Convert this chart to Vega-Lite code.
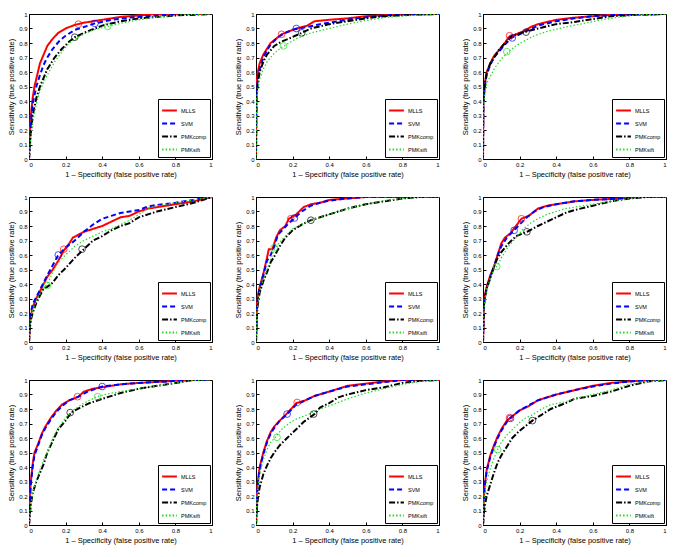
{
"$schema":"https://vega.github.io/schema/vega-lite/v6.json",
"padding":{"left":7,"top":10,"right":4,"bottom":4},
"background":"white",
"columns":3,
"spacing":{"row":15,"column":21},
"datasets":{
"c":[
{"p":1,"m":"MLLS","x":0,"y":0},{"p":1,"m":"MLLS","x":0.005,"y":0.2},{"p":1,"m":"MLLS","x":0.01,"y":0.3},{"p":1,"m":"MLLS","x":0.02,"y":0.42},{"p":1,"m":"MLLS","x":0.03,"y":0.5},{"p":1,"m":"MLLS","x":0.045,"y":0.58},{"p":1,"m":"MLLS","x":0.06,"y":0.66},{"p":1,"m":"MLLS","x":0.08,"y":0.72},{"p":1,"m":"MLLS","x":0.1,"y":0.78},{"p":1,"m":"MLLS","x":0.13,"y":0.83},{"p":1,"m":"MLLS","x":0.16,"y":0.87},{"p":1,"m":"MLLS","x":0.2,"y":0.9},{"p":1,"m":"MLLS","x":0.25,"y":0.925},{"p":1,"m":"MLLS","x":0.3,"y":0.94},{"p":1,"m":"MLLS","x":0.4,"y":0.96},{"p":1,"m":"MLLS","x":0.5,"y":0.98},{"p":1,"m":"MLLS","x":0.6,"y":0.99},{"p":1,"m":"MLLS","x":0.7,"y":1},{"p":1,"m":"MLLS","x":1,"y":1},
{"p":1,"m":"SVM","x":0,"y":0},{"p":1,"m":"SVM","x":0.01,"y":0.25},{"p":1,"m":"SVM","x":0.02,"y":0.38},{"p":1,"m":"SVM","x":0.04,"y":0.5},{"p":1,"m":"SVM","x":0.06,"y":0.58},{"p":1,"m":"SVM","x":0.08,"y":0.65},{"p":1,"m":"SVM","x":0.1,"y":0.7},{"p":1,"m":"SVM","x":0.13,"y":0.76},{"p":1,"m":"SVM","x":0.17,"y":0.82},{"p":1,"m":"SVM","x":0.2,"y":0.85},{"p":1,"m":"SVM","x":0.25,"y":0.89},{"p":1,"m":"SVM","x":0.3,"y":0.91},{"p":1,"m":"SVM","x":0.36,"y":0.935},{"p":1,"m":"SVM","x":0.45,"y":0.96},{"p":1,"m":"SVM","x":0.55,"y":0.975},{"p":1,"m":"SVM","x":0.7,"y":0.99},{"p":1,"m":"SVM","x":0.85,"y":1},{"p":1,"m":"SVM","x":1,"y":1},
{"p":1,"m":"PMKcomp","x":0,"y":0},{"p":1,"m":"PMKcomp","x":0.01,"y":0.18},{"p":1,"m":"PMKcomp","x":0.02,"y":0.3},{"p":1,"m":"PMKcomp","x":0.04,"y":0.42},{"p":1,"m":"PMKcomp","x":0.06,"y":0.5},{"p":1,"m":"PMKcomp","x":0.08,"y":0.56},{"p":1,"m":"PMKcomp","x":0.1,"y":0.62},{"p":1,"m":"PMKcomp","x":0.14,"y":0.7},{"p":1,"m":"PMKcomp","x":0.18,"y":0.76},{"p":1,"m":"PMKcomp","x":0.22,"y":0.81},{"p":1,"m":"PMKcomp","x":0.25,"y":0.84},{"p":1,"m":"PMKcomp","x":0.3,"y":0.87},{"p":1,"m":"PMKcomp","x":0.4,"y":0.92},{"p":1,"m":"PMKcomp","x":0.5,"y":0.95},{"p":1,"m":"PMKcomp","x":0.6,"y":0.97},{"p":1,"m":"PMKcomp","x":0.8,"y":0.99},{"p":1,"m":"PMKcomp","x":1,"y":1},
{"p":1,"m":"PMKsift","x":0,"y":0},{"p":1,"m":"PMKsift","x":0.01,"y":0.15},{"p":1,"m":"PMKsift","x":0.02,"y":0.25},{"p":1,"m":"PMKsift","x":0.04,"y":0.38},{"p":1,"m":"PMKsift","x":0.06,"y":0.47},{"p":1,"m":"PMKsift","x":0.08,"y":0.53},{"p":1,"m":"PMKsift","x":0.1,"y":0.58},{"p":1,"m":"PMKsift","x":0.14,"y":0.67},{"p":1,"m":"PMKsift","x":0.18,"y":0.74},{"p":1,"m":"PMKsift","x":0.22,"y":0.8},{"p":1,"m":"PMKsift","x":0.28,"y":0.85},{"p":1,"m":"PMKsift","x":0.35,"y":0.89},{"p":1,"m":"PMKsift","x":0.43,"y":0.915},{"p":1,"m":"PMKsift","x":0.5,"y":0.935},{"p":1,"m":"PMKsift","x":0.6,"y":0.96},{"p":1,"m":"PMKsift","x":0.7,"y":0.98},{"p":1,"m":"PMKsift","x":0.85,"y":0.995},{"p":1,"m":"PMKsift","x":1,"y":1},

{"p":2,"m":"MLLS","x":0,"y":0},{"p":2,"m":"MLLS","x":0.002,"y":0.5},{"p":2,"m":"MLLS","x":0.01,"y":0.6},{"p":2,"m":"MLLS","x":0.02,"y":0.66},{"p":2,"m":"MLLS","x":0.04,"y":0.72},{"p":2,"m":"MLLS","x":0.06,"y":0.76},{"p":2,"m":"MLLS","x":0.08,"y":0.8},{"p":2,"m":"MLLS","x":0.1,"y":0.82},{"p":2,"m":"MLLS","x":0.14,"y":0.86},{"p":2,"m":"MLLS","x":0.18,"y":0.88},{"p":2,"m":"MLLS","x":0.22,"y":0.9},{"p":2,"m":"MLLS","x":0.28,"y":0.92},{"p":2,"m":"MLLS","x":0.32,"y":0.95},{"p":2,"m":"MLLS","x":0.4,"y":0.96},{"p":2,"m":"MLLS","x":0.5,"y":0.97},{"p":2,"m":"MLLS","x":0.6,"y":0.985},{"p":2,"m":"MLLS","x":0.75,"y":0.995},{"p":2,"m":"MLLS","x":1,"y":1},
{"p":2,"m":"SVM","x":0,"y":0},{"p":2,"m":"SVM","x":0.002,"y":0.45},{"p":2,"m":"SVM","x":0.01,"y":0.55},{"p":2,"m":"SVM","x":0.02,"y":0.62},{"p":2,"m":"SVM","x":0.04,"y":0.7},{"p":2,"m":"SVM","x":0.06,"y":0.75},{"p":2,"m":"SVM","x":0.08,"y":0.79},{"p":2,"m":"SVM","x":0.12,"y":0.84},{"p":2,"m":"SVM","x":0.16,"y":0.87},{"p":2,"m":"SVM","x":0.21,"y":0.895},{"p":2,"m":"SVM","x":0.28,"y":0.91},{"p":2,"m":"SVM","x":0.35,"y":0.93},{"p":2,"m":"SVM","x":0.45,"y":0.95},{"p":2,"m":"SVM","x":0.55,"y":0.97},{"p":2,"m":"SVM","x":0.7,"y":0.99},{"p":2,"m":"SVM","x":0.85,"y":1},{"p":2,"m":"SVM","x":1,"y":1},
{"p":2,"m":"PMKcomp","x":0,"y":0},{"p":2,"m":"PMKcomp","x":0.003,"y":0.45},{"p":2,"m":"PMKcomp","x":0.01,"y":0.52},{"p":2,"m":"PMKcomp","x":0.02,"y":0.6},{"p":2,"m":"PMKcomp","x":0.04,"y":0.67},{"p":2,"m":"PMKcomp","x":0.06,"y":0.72},{"p":2,"m":"PMKcomp","x":0.1,"y":0.78},{"p":2,"m":"PMKcomp","x":0.14,"y":0.81},{"p":2,"m":"PMKcomp","x":0.18,"y":0.83},{"p":2,"m":"PMKcomp","x":0.25,"y":0.87},{"p":2,"m":"PMKcomp","x":0.3,"y":0.9},{"p":2,"m":"PMKcomp","x":0.4,"y":0.93},{"p":2,"m":"PMKcomp","x":0.5,"y":0.95},{"p":2,"m":"PMKcomp","x":0.6,"y":0.97},{"p":2,"m":"PMKcomp","x":0.7,"y":0.985},{"p":2,"m":"PMKcomp","x":0.85,"y":0.995},{"p":2,"m":"PMKcomp","x":1,"y":1},
{"p":2,"m":"PMKsift","x":0,"y":0},{"p":2,"m":"PMKsift","x":0.003,"y":0.4},{"p":2,"m":"PMKsift","x":0.01,"y":0.48},{"p":2,"m":"PMKsift","x":0.02,"y":0.55},{"p":2,"m":"PMKsift","x":0.04,"y":0.62},{"p":2,"m":"PMKsift","x":0.06,"y":0.67},{"p":2,"m":"PMKsift","x":0.1,"y":0.73},{"p":2,"m":"PMKsift","x":0.14,"y":0.77},{"p":2,"m":"PMKsift","x":0.18,"y":0.8},{"p":2,"m":"PMKsift","x":0.22,"y":0.83},{"p":2,"m":"PMKsift","x":0.3,"y":0.87},{"p":2,"m":"PMKsift","x":0.4,"y":0.9},{"p":2,"m":"PMKsift","x":0.5,"y":0.93},{"p":2,"m":"PMKsift","x":0.6,"y":0.955},{"p":2,"m":"PMKsift","x":0.7,"y":0.975},{"p":2,"m":"PMKsift","x":0.85,"y":0.99},{"p":2,"m":"PMKsift","x":1,"y":1},

{"p":3,"m":"MLLS","x":0,"y":0},{"p":3,"m":"MLLS","x":0.002,"y":0.4},{"p":3,"m":"MLLS","x":0.01,"y":0.52},{"p":3,"m":"MLLS","x":0.02,"y":0.6},{"p":3,"m":"MLLS","x":0.04,"y":0.66},{"p":3,"m":"MLLS","x":0.06,"y":0.71},{"p":3,"m":"MLLS","x":0.08,"y":0.74},{"p":3,"m":"MLLS","x":0.1,"y":0.77},{"p":3,"m":"MLLS","x":0.12,"y":0.8},{"p":3,"m":"MLLS","x":0.14,"y":0.84},{"p":3,"m":"MLLS","x":0.18,"y":0.86},{"p":3,"m":"MLLS","x":0.22,"y":0.88},{"p":3,"m":"MLLS","x":0.26,"y":0.91},{"p":3,"m":"MLLS","x":0.3,"y":0.93},{"p":3,"m":"MLLS","x":0.4,"y":0.96},{"p":3,"m":"MLLS","x":0.5,"y":0.975},{"p":3,"m":"MLLS","x":0.6,"y":0.985},{"p":3,"m":"MLLS","x":0.7,"y":0.995},{"p":3,"m":"MLLS","x":1,"y":1},
{"p":3,"m":"SVM","x":0,"y":0},{"p":3,"m":"SVM","x":0.002,"y":0.38},{"p":3,"m":"SVM","x":0.01,"y":0.5},{"p":3,"m":"SVM","x":0.02,"y":0.58},{"p":3,"m":"SVM","x":0.04,"y":0.65},{"p":3,"m":"SVM","x":0.06,"y":0.7},{"p":3,"m":"SVM","x":0.08,"y":0.73},{"p":3,"m":"SVM","x":0.12,"y":0.79},{"p":3,"m":"SVM","x":0.16,"y":0.84},{"p":3,"m":"SVM","x":0.2,"y":0.86},{"p":3,"m":"SVM","x":0.25,"y":0.89},{"p":3,"m":"SVM","x":0.3,"y":0.92},{"p":3,"m":"SVM","x":0.4,"y":0.95},{"p":3,"m":"SVM","x":0.5,"y":0.97},{"p":3,"m":"SVM","x":0.6,"y":0.985},{"p":3,"m":"SVM","x":0.75,"y":0.995},{"p":3,"m":"SVM","x":1,"y":1},
{"p":3,"m":"PMKcomp","x":0,"y":0},{"p":3,"m":"PMKcomp","x":0.002,"y":0.4},{"p":3,"m":"PMKcomp","x":0.01,"y":0.52},{"p":3,"m":"PMKcomp","x":0.02,"y":0.59},{"p":3,"m":"PMKcomp","x":0.04,"y":0.66},{"p":3,"m":"PMKcomp","x":0.06,"y":0.7},{"p":3,"m":"PMKcomp","x":0.08,"y":0.74},{"p":3,"m":"PMKcomp","x":0.12,"y":0.8},{"p":3,"m":"PMKcomp","x":0.16,"y":0.85},{"p":3,"m":"PMKcomp","x":0.2,"y":0.865},{"p":3,"m":"PMKcomp","x":0.24,"y":0.88},{"p":3,"m":"PMKcomp","x":0.3,"y":0.9},{"p":3,"m":"PMKcomp","x":0.4,"y":0.93},{"p":3,"m":"PMKcomp","x":0.5,"y":0.945},{"p":3,"m":"PMKcomp","x":0.6,"y":0.965},{"p":3,"m":"PMKcomp","x":0.7,"y":0.985},{"p":3,"m":"PMKcomp","x":0.85,"y":0.995},{"p":3,"m":"PMKcomp","x":1,"y":1},
{"p":3,"m":"PMKsift","x":0,"y":0},{"p":3,"m":"PMKsift","x":0.003,"y":0.35},{"p":3,"m":"PMKsift","x":0.01,"y":0.45},{"p":3,"m":"PMKsift","x":0.02,"y":0.52},{"p":3,"m":"PMKsift","x":0.04,"y":0.57},{"p":3,"m":"PMKsift","x":0.06,"y":0.62},{"p":3,"m":"PMKsift","x":0.1,"y":0.69},{"p":3,"m":"PMKsift","x":0.14,"y":0.74},{"p":3,"m":"PMKsift","x":0.18,"y":0.78},{"p":3,"m":"PMKsift","x":0.22,"y":0.81},{"p":3,"m":"PMKsift","x":0.28,"y":0.85},{"p":3,"m":"PMKsift","x":0.35,"y":0.88},{"p":3,"m":"PMKsift","x":0.45,"y":0.91},{"p":3,"m":"PMKsift","x":0.55,"y":0.935},{"p":3,"m":"PMKsift","x":0.65,"y":0.96},{"p":3,"m":"PMKsift","x":0.75,"y":0.98},{"p":3,"m":"PMKsift","x":0.85,"y":0.995},{"p":3,"m":"PMKsift","x":1,"y":1},

{"p":4,"m":"MLLS","x":0,"y":0},{"p":4,"m":"MLLS","x":0.005,"y":0.12},{"p":4,"m":"MLLS","x":0.01,"y":0.18},{"p":4,"m":"MLLS","x":0.02,"y":0.24},{"p":4,"m":"MLLS","x":0.04,"y":0.3},{"p":4,"m":"MLLS","x":0.06,"y":0.35},{"p":4,"m":"MLLS","x":0.08,"y":0.4},{"p":4,"m":"MLLS","x":0.1,"y":0.45},{"p":4,"m":"MLLS","x":0.13,"y":0.5},{"p":4,"m":"MLLS","x":0.16,"y":0.56},{"p":4,"m":"MLLS","x":0.19,"y":0.63},{"p":4,"m":"MLLS","x":0.22,"y":0.68},{"p":4,"m":"MLLS","x":0.24,"y":0.72},{"p":4,"m":"MLLS","x":0.3,"y":0.76},{"p":4,"m":"MLLS","x":0.35,"y":0.78},{"p":4,"m":"MLLS","x":0.4,"y":0.8},{"p":4,"m":"MLLS","x":0.45,"y":0.83},{"p":4,"m":"MLLS","x":0.5,"y":0.86},{"p":4,"m":"MLLS","x":0.55,"y":0.87},{"p":4,"m":"MLLS","x":0.6,"y":0.9},{"p":4,"m":"MLLS","x":0.65,"y":0.92},{"p":4,"m":"MLLS","x":0.7,"y":0.93},{"p":4,"m":"MLLS","x":0.8,"y":0.95},{"p":4,"m":"MLLS","x":0.9,"y":0.97},{"p":4,"m":"MLLS","x":1,"y":1},
{"p":4,"m":"SVM","x":0,"y":0},{"p":4,"m":"SVM","x":0.005,"y":0.15},{"p":4,"m":"SVM","x":0.01,"y":0.2},{"p":4,"m":"SVM","x":0.02,"y":0.26},{"p":4,"m":"SVM","x":0.04,"y":0.31},{"p":4,"m":"SVM","x":0.06,"y":0.36},{"p":4,"m":"SVM","x":0.08,"y":0.41},{"p":4,"m":"SVM","x":0.1,"y":0.46},{"p":4,"m":"SVM","x":0.13,"y":0.53},{"p":4,"m":"SVM","x":0.16,"y":0.6},{"p":4,"m":"SVM","x":0.2,"y":0.65},{"p":4,"m":"SVM","x":0.25,"y":0.7},{"p":4,"m":"SVM","x":0.3,"y":0.76},{"p":4,"m":"SVM","x":0.35,"y":0.81},{"p":4,"m":"SVM","x":0.4,"y":0.85},{"p":4,"m":"SVM","x":0.45,"y":0.87},{"p":4,"m":"SVM","x":0.5,"y":0.89},{"p":4,"m":"SVM","x":0.55,"y":0.9},{"p":4,"m":"SVM","x":0.6,"y":0.91},{"p":4,"m":"SVM","x":0.65,"y":0.935},{"p":4,"m":"SVM","x":0.7,"y":0.945},{"p":4,"m":"SVM","x":0.8,"y":0.96},{"p":4,"m":"SVM","x":0.9,"y":0.98},{"p":4,"m":"SVM","x":1,"y":1},
{"p":4,"m":"PMKcomp","x":0,"y":0},{"p":4,"m":"PMKcomp","x":0.005,"y":0.1},{"p":4,"m":"PMKcomp","x":0.01,"y":0.15},{"p":4,"m":"PMKcomp","x":0.02,"y":0.2},{"p":4,"m":"PMKcomp","x":0.04,"y":0.27},{"p":4,"m":"PMKcomp","x":0.06,"y":0.32},{"p":4,"m":"PMKcomp","x":0.08,"y":0.37},{"p":4,"m":"PMKcomp","x":0.1,"y":0.38},{"p":4,"m":"PMKcomp","x":0.13,"y":0.41},{"p":4,"m":"PMKcomp","x":0.16,"y":0.46},{"p":4,"m":"PMKcomp","x":0.2,"y":0.51},{"p":4,"m":"PMKcomp","x":0.25,"y":0.58},{"p":4,"m":"PMKcomp","x":0.3,"y":0.64},{"p":4,"m":"PMKcomp","x":0.35,"y":0.7},{"p":4,"m":"PMKcomp","x":0.4,"y":0.73},{"p":4,"m":"PMKcomp","x":0.45,"y":0.77},{"p":4,"m":"PMKcomp","x":0.5,"y":0.8},{"p":4,"m":"PMKcomp","x":0.55,"y":0.82},{"p":4,"m":"PMKcomp","x":0.6,"y":0.86},{"p":4,"m":"PMKcomp","x":0.65,"y":0.88},{"p":4,"m":"PMKcomp","x":0.7,"y":0.9},{"p":4,"m":"PMKcomp","x":0.8,"y":0.93},{"p":4,"m":"PMKcomp","x":0.9,"y":0.96},{"p":4,"m":"PMKcomp","x":1,"y":1},
{"p":4,"m":"PMKsift","x":0,"y":0},{"p":4,"m":"PMKsift","x":0.005,"y":0.1},{"p":4,"m":"PMKsift","x":0.01,"y":0.15},{"p":4,"m":"PMKsift","x":0.02,"y":0.22},{"p":4,"m":"PMKsift","x":0.04,"y":0.28},{"p":4,"m":"PMKsift","x":0.06,"y":0.33},{"p":4,"m":"PMKsift","x":0.08,"y":0.37},{"p":4,"m":"PMKsift","x":0.1,"y":0.4},{"p":4,"m":"PMKsift","x":0.13,"y":0.48},{"p":4,"m":"PMKsift","x":0.16,"y":0.55},{"p":4,"m":"PMKsift","x":0.2,"y":0.6},{"p":4,"m":"PMKsift","x":0.25,"y":0.66},{"p":4,"m":"PMKsift","x":0.3,"y":0.7},{"p":4,"m":"PMKsift","x":0.35,"y":0.73},{"p":4,"m":"PMKsift","x":0.4,"y":0.76},{"p":4,"m":"PMKsift","x":0.45,"y":0.78},{"p":4,"m":"PMKsift","x":0.5,"y":0.81},{"p":4,"m":"PMKsift","x":0.55,"y":0.84},{"p":4,"m":"PMKsift","x":0.6,"y":0.88},{"p":4,"m":"PMKsift","x":0.65,"y":0.92},{"p":4,"m":"PMKsift","x":0.7,"y":0.94},{"p":4,"m":"PMKsift","x":0.8,"y":0.96},{"p":4,"m":"PMKsift","x":0.9,"y":0.98},{"p":4,"m":"PMKsift","x":1,"y":1},

{"p":5,"m":"MLLS","x":0,"y":0},{"p":5,"m":"MLLS","x":0.005,"y":0.25},{"p":5,"m":"MLLS","x":0.01,"y":0.32},{"p":5,"m":"MLLS","x":0.02,"y":0.38},{"p":5,"m":"MLLS","x":0.04,"y":0.47},{"p":5,"m":"MLLS","x":0.06,"y":0.58},{"p":5,"m":"MLLS","x":0.07,"y":0.64},{"p":5,"m":"MLLS","x":0.09,"y":0.64},{"p":5,"m":"MLLS","x":0.11,"y":0.72},{"p":5,"m":"MLLS","x":0.13,"y":0.77},{"p":5,"m":"MLLS","x":0.16,"y":0.8},{"p":5,"m":"MLLS","x":0.18,"y":0.85},{"p":5,"m":"MLLS","x":0.22,"y":0.88},{"p":5,"m":"MLLS","x":0.26,"y":0.93},{"p":5,"m":"MLLS","x":0.3,"y":0.95},{"p":5,"m":"MLLS","x":0.35,"y":0.96},{"p":5,"m":"MLLS","x":0.4,"y":0.98},{"p":5,"m":"MLLS","x":0.5,"y":0.99},{"p":5,"m":"MLLS","x":0.6,"y":1},{"p":5,"m":"MLLS","x":1,"y":1},
{"p":5,"m":"SVM","x":0,"y":0},{"p":5,"m":"SVM","x":0.005,"y":0.25},{"p":5,"m":"SVM","x":0.01,"y":0.3},{"p":5,"m":"SVM","x":0.02,"y":0.37},{"p":5,"m":"SVM","x":0.04,"y":0.46},{"p":5,"m":"SVM","x":0.06,"y":0.56},{"p":5,"m":"SVM","x":0.08,"y":0.6},{"p":5,"m":"SVM","x":0.1,"y":0.66},{"p":5,"m":"SVM","x":0.12,"y":0.74},{"p":5,"m":"SVM","x":0.15,"y":0.78},{"p":5,"m":"SVM","x":0.18,"y":0.82},{"p":5,"m":"SVM","x":0.21,"y":0.855},{"p":5,"m":"SVM","x":0.25,"y":0.9},{"p":5,"m":"SVM","x":0.3,"y":0.94},{"p":5,"m":"SVM","x":0.35,"y":0.96},{"p":5,"m":"SVM","x":0.4,"y":0.975},{"p":5,"m":"SVM","x":0.5,"y":0.99},{"p":5,"m":"SVM","x":0.6,"y":1},{"p":5,"m":"SVM","x":1,"y":1},
{"p":5,"m":"PMKcomp","x":0,"y":0},{"p":5,"m":"PMKcomp","x":0.005,"y":0.2},{"p":5,"m":"PMKcomp","x":0.01,"y":0.26},{"p":5,"m":"PMKcomp","x":0.02,"y":0.34},{"p":5,"m":"PMKcomp","x":0.04,"y":0.42},{"p":5,"m":"PMKcomp","x":0.06,"y":0.48},{"p":5,"m":"PMKcomp","x":0.08,"y":0.55},{"p":5,"m":"PMKcomp","x":0.1,"y":0.59},{"p":5,"m":"PMKcomp","x":0.13,"y":0.66},{"p":5,"m":"PMKcomp","x":0.16,"y":0.72},{"p":5,"m":"PMKcomp","x":0.2,"y":0.77},{"p":5,"m":"PMKcomp","x":0.25,"y":0.81},{"p":5,"m":"PMKcomp","x":0.3,"y":0.84},{"p":5,"m":"PMKcomp","x":0.35,"y":0.86},{"p":5,"m":"PMKcomp","x":0.4,"y":0.88},{"p":5,"m":"PMKcomp","x":0.5,"y":0.92},{"p":5,"m":"PMKcomp","x":0.6,"y":0.95},{"p":5,"m":"PMKcomp","x":0.7,"y":0.97},{"p":5,"m":"PMKcomp","x":0.8,"y":0.99},{"p":5,"m":"PMKcomp","x":0.9,"y":1},{"p":5,"m":"PMKcomp","x":1,"y":1},
{"p":5,"m":"PMKsift","x":0,"y":0},{"p":5,"m":"PMKsift","x":0.005,"y":0.2},{"p":5,"m":"PMKsift","x":0.01,"y":0.27},{"p":5,"m":"PMKsift","x":0.02,"y":0.35},{"p":5,"m":"PMKsift","x":0.04,"y":0.43},{"p":5,"m":"PMKsift","x":0.06,"y":0.5},{"p":5,"m":"PMKsift","x":0.08,"y":0.57},{"p":5,"m":"PMKsift","x":0.1,"y":0.64},{"p":5,"m":"PMKsift","x":0.13,"y":0.69},{"p":5,"m":"PMKsift","x":0.16,"y":0.73},{"p":5,"m":"PMKsift","x":0.2,"y":0.78},{"p":5,"m":"PMKsift","x":0.25,"y":0.81},{"p":5,"m":"PMKsift","x":0.3,"y":0.84},{"p":5,"m":"PMKsift","x":0.35,"y":0.86},{"p":5,"m":"PMKsift","x":0.4,"y":0.88},{"p":5,"m":"PMKsift","x":0.5,"y":0.92},{"p":5,"m":"PMKsift","x":0.6,"y":0.95},{"p":5,"m":"PMKsift","x":0.7,"y":0.975},{"p":5,"m":"PMKsift","x":0.8,"y":0.99},{"p":5,"m":"PMKsift","x":0.9,"y":1},{"p":5,"m":"PMKsift","x":1,"y":1},

{"p":6,"m":"MLLS","x":0,"y":0},{"p":6,"m":"MLLS","x":0.005,"y":0.25},{"p":6,"m":"MLLS","x":0.01,"y":0.32},{"p":6,"m":"MLLS","x":0.02,"y":0.38},{"p":6,"m":"MLLS","x":0.04,"y":0.46},{"p":6,"m":"MLLS","x":0.06,"y":0.52},{"p":6,"m":"MLLS","x":0.08,"y":0.6},{"p":6,"m":"MLLS","x":0.1,"y":0.68},{"p":6,"m":"MLLS","x":0.12,"y":0.72},{"p":6,"m":"MLLS","x":0.15,"y":0.75},{"p":6,"m":"MLLS","x":0.18,"y":0.8},{"p":6,"m":"MLLS","x":0.21,"y":0.85},{"p":6,"m":"MLLS","x":0.25,"y":0.87},{"p":6,"m":"MLLS","x":0.3,"y":0.92},{"p":6,"m":"MLLS","x":0.35,"y":0.94},{"p":6,"m":"MLLS","x":0.4,"y":0.95},{"p":6,"m":"MLLS","x":0.5,"y":0.97},{"p":6,"m":"MLLS","x":0.6,"y":0.98},{"p":6,"m":"MLLS","x":0.75,"y":0.99},{"p":6,"m":"MLLS","x":0.85,"y":1},{"p":6,"m":"MLLS","x":1,"y":1},
{"p":6,"m":"SVM","x":0,"y":0},{"p":6,"m":"SVM","x":0.005,"y":0.25},{"p":6,"m":"SVM","x":0.01,"y":0.31},{"p":6,"m":"SVM","x":0.02,"y":0.37},{"p":6,"m":"SVM","x":0.04,"y":0.45},{"p":6,"m":"SVM","x":0.06,"y":0.52},{"p":6,"m":"SVM","x":0.08,"y":0.6},{"p":6,"m":"SVM","x":0.1,"y":0.66},{"p":6,"m":"SVM","x":0.13,"y":0.72},{"p":6,"m":"SVM","x":0.17,"y":0.77},{"p":6,"m":"SVM","x":0.2,"y":0.81},{"p":6,"m":"SVM","x":0.24,"y":0.86},{"p":6,"m":"SVM","x":0.28,"y":0.9},{"p":6,"m":"SVM","x":0.33,"y":0.93},{"p":6,"m":"SVM","x":0.4,"y":0.95},{"p":6,"m":"SVM","x":0.5,"y":0.97},{"p":6,"m":"SVM","x":0.6,"y":0.98},{"p":6,"m":"SVM","x":0.75,"y":0.99},{"p":6,"m":"SVM","x":0.85,"y":1},{"p":6,"m":"SVM","x":1,"y":1},
{"p":6,"m":"PMKcomp","x":0,"y":0},{"p":6,"m":"PMKcomp","x":0.005,"y":0.25},{"p":6,"m":"PMKcomp","x":0.01,"y":0.3},{"p":6,"m":"PMKcomp","x":0.02,"y":0.37},{"p":6,"m":"PMKcomp","x":0.04,"y":0.44},{"p":6,"m":"PMKcomp","x":0.06,"y":0.52},{"p":6,"m":"PMKcomp","x":0.08,"y":0.58},{"p":6,"m":"PMKcomp","x":0.1,"y":0.62},{"p":6,"m":"PMKcomp","x":0.14,"y":0.68},{"p":6,"m":"PMKcomp","x":0.18,"y":0.73},{"p":6,"m":"PMKcomp","x":0.24,"y":0.76},{"p":6,"m":"PMKcomp","x":0.3,"y":0.8},{"p":6,"m":"PMKcomp","x":0.35,"y":0.83},{"p":6,"m":"PMKcomp","x":0.4,"y":0.86},{"p":6,"m":"PMKcomp","x":0.45,"y":0.89},{"p":6,"m":"PMKcomp","x":0.5,"y":0.91},{"p":6,"m":"PMKcomp","x":0.6,"y":0.94},{"p":6,"m":"PMKcomp","x":0.7,"y":0.97},{"p":6,"m":"PMKcomp","x":0.8,"y":0.99},{"p":6,"m":"PMKcomp","x":0.9,"y":1},{"p":6,"m":"PMKcomp","x":1,"y":1},
{"p":6,"m":"PMKsift","x":0,"y":0},{"p":6,"m":"PMKsift","x":0.005,"y":0.22},{"p":6,"m":"PMKsift","x":0.01,"y":0.28},{"p":6,"m":"PMKsift","x":0.02,"y":0.36},{"p":6,"m":"PMKsift","x":0.04,"y":0.44},{"p":6,"m":"PMKsift","x":0.06,"y":0.5},{"p":6,"m":"PMKsift","x":0.08,"y":0.53},{"p":6,"m":"PMKsift","x":0.1,"y":0.58},{"p":6,"m":"PMKsift","x":0.14,"y":0.66},{"p":6,"m":"PMKsift","x":0.18,"y":0.72},{"p":6,"m":"PMKsift","x":0.22,"y":0.78},{"p":6,"m":"PMKsift","x":0.26,"y":0.82},{"p":6,"m":"PMKsift","x":0.3,"y":0.85},{"p":6,"m":"PMKsift","x":0.35,"y":0.88},{"p":6,"m":"PMKsift","x":0.4,"y":0.9},{"p":6,"m":"PMKsift","x":0.45,"y":0.92},{"p":6,"m":"PMKsift","x":0.5,"y":0.93},{"p":6,"m":"PMKsift","x":0.6,"y":0.95},{"p":6,"m":"PMKsift","x":0.7,"y":0.97},{"p":6,"m":"PMKsift","x":0.8,"y":0.99},{"p":6,"m":"PMKsift","x":0.9,"y":1},{"p":6,"m":"PMKsift","x":1,"y":1},

{"p":7,"m":"MLLS","x":0,"y":0},{"p":7,"m":"MLLS","x":0.005,"y":0.2},{"p":7,"m":"MLLS","x":0.01,"y":0.3},{"p":7,"m":"MLLS","x":0.02,"y":0.42},{"p":7,"m":"MLLS","x":0.03,"y":0.5},{"p":7,"m":"MLLS","x":0.05,"y":0.56},{"p":7,"m":"MLLS","x":0.07,"y":0.63},{"p":7,"m":"MLLS","x":0.09,"y":0.68},{"p":7,"m":"MLLS","x":0.12,"y":0.74},{"p":7,"m":"MLLS","x":0.15,"y":0.79},{"p":7,"m":"MLLS","x":0.18,"y":0.83},{"p":7,"m":"MLLS","x":0.22,"y":0.86},{"p":7,"m":"MLLS","x":0.27,"y":0.885},{"p":7,"m":"MLLS","x":0.3,"y":0.92},{"p":7,"m":"MLLS","x":0.35,"y":0.94},{"p":7,"m":"MLLS","x":0.4,"y":0.95},{"p":7,"m":"MLLS","x":0.5,"y":0.97},{"p":7,"m":"MLLS","x":0.6,"y":0.98},{"p":7,"m":"MLLS","x":0.75,"y":0.99},{"p":7,"m":"MLLS","x":0.85,"y":1},{"p":7,"m":"MLLS","x":1,"y":1},
{"p":7,"m":"SVM","x":0,"y":0},{"p":7,"m":"SVM","x":0.005,"y":0.18},{"p":7,"m":"SVM","x":0.01,"y":0.28},{"p":7,"m":"SVM","x":0.02,"y":0.4},{"p":7,"m":"SVM","x":0.03,"y":0.48},{"p":7,"m":"SVM","x":0.05,"y":0.55},{"p":7,"m":"SVM","x":0.07,"y":0.62},{"p":7,"m":"SVM","x":0.09,"y":0.67},{"p":7,"m":"SVM","x":0.12,"y":0.73},{"p":7,"m":"SVM","x":0.15,"y":0.78},{"p":7,"m":"SVM","x":0.18,"y":0.82},{"p":7,"m":"SVM","x":0.22,"y":0.86},{"p":7,"m":"SVM","x":0.27,"y":0.885},{"p":7,"m":"SVM","x":0.32,"y":0.92},{"p":7,"m":"SVM","x":0.4,"y":0.955},{"p":7,"m":"SVM","x":0.5,"y":0.97},{"p":7,"m":"SVM","x":0.6,"y":0.98},{"p":7,"m":"SVM","x":0.75,"y":0.99},{"p":7,"m":"SVM","x":0.85,"y":1},{"p":7,"m":"SVM","x":1,"y":1},
{"p":7,"m":"PMKcomp","x":0,"y":0},{"p":7,"m":"PMKcomp","x":0.005,"y":0.08},{"p":7,"m":"PMKcomp","x":0.01,"y":0.14},{"p":7,"m":"PMKcomp","x":0.02,"y":0.22},{"p":7,"m":"PMKcomp","x":0.04,"y":0.3},{"p":7,"m":"PMKcomp","x":0.06,"y":0.36},{"p":7,"m":"PMKcomp","x":0.08,"y":0.42},{"p":7,"m":"PMKcomp","x":0.1,"y":0.5},{"p":7,"m":"PMKcomp","x":0.13,"y":0.58},{"p":7,"m":"PMKcomp","x":0.16,"y":0.66},{"p":7,"m":"PMKcomp","x":0.2,"y":0.72},{"p":7,"m":"PMKcomp","x":0.23,"y":0.775},{"p":7,"m":"PMKcomp","x":0.28,"y":0.81},{"p":7,"m":"PMKcomp","x":0.33,"y":0.84},{"p":7,"m":"PMKcomp","x":0.4,"y":0.87},{"p":7,"m":"PMKcomp","x":0.5,"y":0.91},{"p":7,"m":"PMKcomp","x":0.6,"y":0.94},{"p":7,"m":"PMKcomp","x":0.7,"y":0.96},{"p":7,"m":"PMKcomp","x":0.8,"y":0.98},{"p":7,"m":"PMKcomp","x":0.9,"y":1},{"p":7,"m":"PMKcomp","x":1,"y":1},
{"p":7,"m":"PMKsift","x":0,"y":0},{"p":7,"m":"PMKsift","x":0.005,"y":0.08},{"p":7,"m":"PMKsift","x":0.01,"y":0.14},{"p":7,"m":"PMKsift","x":0.02,"y":0.22},{"p":7,"m":"PMKsift","x":0.04,"y":0.31},{"p":7,"m":"PMKsift","x":0.06,"y":0.38},{"p":7,"m":"PMKsift","x":0.08,"y":0.45},{"p":7,"m":"PMKsift","x":0.1,"y":0.5},{"p":7,"m":"PMKsift","x":0.13,"y":0.6},{"p":7,"m":"PMKsift","x":0.16,"y":0.67},{"p":7,"m":"PMKsift","x":0.2,"y":0.74},{"p":7,"m":"PMKsift","x":0.25,"y":0.8},{"p":7,"m":"PMKsift","x":0.3,"y":0.84},{"p":7,"m":"PMKsift","x":0.37,"y":0.885},{"p":7,"m":"PMKsift","x":0.45,"y":0.91},{"p":7,"m":"PMKsift","x":0.55,"y":0.93},{"p":7,"m":"PMKsift","x":0.65,"y":0.95},{"p":7,"m":"PMKsift","x":0.75,"y":0.97},{"p":7,"m":"PMKsift","x":0.85,"y":0.99},{"p":7,"m":"PMKsift","x":0.95,"y":1},{"p":7,"m":"PMKsift","x":1,"y":1},

{"p":8,"m":"MLLS","x":0,"y":0},{"p":8,"m":"MLLS","x":0.005,"y":0.22},{"p":8,"m":"MLLS","x":0.01,"y":0.3},{"p":8,"m":"MLLS","x":0.02,"y":0.4},{"p":8,"m":"MLLS","x":0.04,"y":0.5},{"p":8,"m":"MLLS","x":0.06,"y":0.58},{"p":8,"m":"MLLS","x":0.08,"y":0.64},{"p":8,"m":"MLLS","x":0.1,"y":0.68},{"p":8,"m":"MLLS","x":0.13,"y":0.72},{"p":8,"m":"MLLS","x":0.17,"y":0.77},{"p":8,"m":"MLLS","x":0.22,"y":0.84},{"p":8,"m":"MLLS","x":0.27,"y":0.86},{"p":8,"m":"MLLS","x":0.32,"y":0.89},{"p":8,"m":"MLLS","x":0.4,"y":0.92},{"p":8,"m":"MLLS","x":0.5,"y":0.96},{"p":8,"m":"MLLS","x":0.6,"y":0.975},{"p":8,"m":"MLLS","x":0.7,"y":0.99},{"p":8,"m":"MLLS","x":0.8,"y":1},{"p":8,"m":"MLLS","x":1,"y":1},
{"p":8,"m":"SVM","x":0,"y":0},{"p":8,"m":"SVM","x":0.005,"y":0.2},{"p":8,"m":"SVM","x":0.01,"y":0.28},{"p":8,"m":"SVM","x":0.02,"y":0.38},{"p":8,"m":"SVM","x":0.04,"y":0.49},{"p":8,"m":"SVM","x":0.06,"y":0.57},{"p":8,"m":"SVM","x":0.08,"y":0.63},{"p":8,"m":"SVM","x":0.1,"y":0.67},{"p":8,"m":"SVM","x":0.13,"y":0.72},{"p":8,"m":"SVM","x":0.17,"y":0.765},{"p":8,"m":"SVM","x":0.22,"y":0.83},{"p":8,"m":"SVM","x":0.27,"y":0.86},{"p":8,"m":"SVM","x":0.32,"y":0.89},{"p":8,"m":"SVM","x":0.4,"y":0.92},{"p":8,"m":"SVM","x":0.5,"y":0.955},{"p":8,"m":"SVM","x":0.6,"y":0.97},{"p":8,"m":"SVM","x":0.7,"y":0.985},{"p":8,"m":"SVM","x":0.8,"y":1},{"p":8,"m":"SVM","x":1,"y":1},
{"p":8,"m":"PMKcomp","x":0,"y":0},{"p":8,"m":"PMKcomp","x":0.005,"y":0.12},{"p":8,"m":"PMKcomp","x":0.01,"y":0.18},{"p":8,"m":"PMKcomp","x":0.02,"y":0.26},{"p":8,"m":"PMKcomp","x":0.04,"y":0.35},{"p":8,"m":"PMKcomp","x":0.06,"y":0.41},{"p":8,"m":"PMKcomp","x":0.08,"y":0.46},{"p":8,"m":"PMKcomp","x":0.1,"y":0.5},{"p":8,"m":"PMKcomp","x":0.13,"y":0.55},{"p":8,"m":"PMKcomp","x":0.17,"y":0.6},{"p":8,"m":"PMKcomp","x":0.22,"y":0.66},{"p":8,"m":"PMKcomp","x":0.26,"y":0.71},{"p":8,"m":"PMKcomp","x":0.32,"y":0.765},{"p":8,"m":"PMKcomp","x":0.35,"y":0.81},{"p":8,"m":"PMKcomp","x":0.4,"y":0.84},{"p":8,"m":"PMKcomp","x":0.45,"y":0.88},{"p":8,"m":"PMKcomp","x":0.5,"y":0.9},{"p":8,"m":"PMKcomp","x":0.6,"y":0.93},{"p":8,"m":"PMKcomp","x":0.7,"y":0.95},{"p":8,"m":"PMKcomp","x":0.8,"y":0.98},{"p":8,"m":"PMKcomp","x":0.9,"y":0.995},{"p":8,"m":"PMKcomp","x":1,"y":1},
{"p":8,"m":"PMKsift","x":0,"y":0},{"p":8,"m":"PMKsift","x":0.005,"y":0.18},{"p":8,"m":"PMKsift","x":0.01,"y":0.26},{"p":8,"m":"PMKsift","x":0.02,"y":0.35},{"p":8,"m":"PMKsift","x":0.04,"y":0.45},{"p":8,"m":"PMKsift","x":0.06,"y":0.52},{"p":8,"m":"PMKsift","x":0.08,"y":0.57},{"p":8,"m":"PMKsift","x":0.11,"y":0.61},{"p":8,"m":"PMKsift","x":0.14,"y":0.66},{"p":8,"m":"PMKsift","x":0.18,"y":0.7},{"p":8,"m":"PMKsift","x":0.22,"y":0.73},{"p":8,"m":"PMKsift","x":0.28,"y":0.76},{"p":8,"m":"PMKsift","x":0.35,"y":0.8},{"p":8,"m":"PMKsift","x":0.42,"y":0.83},{"p":8,"m":"PMKsift","x":0.5,"y":0.87},{"p":8,"m":"PMKsift","x":0.6,"y":0.91},{"p":8,"m":"PMKsift","x":0.7,"y":0.94},{"p":8,"m":"PMKsift","x":0.8,"y":0.97},{"p":8,"m":"PMKsift","x":0.9,"y":0.99},{"p":8,"m":"PMKsift","x":1,"y":1},

{"p":9,"m":"MLLS","x":0,"y":0},{"p":9,"m":"MLLS","x":0.005,"y":0.2},{"p":9,"m":"MLLS","x":0.01,"y":0.28},{"p":9,"m":"MLLS","x":0.02,"y":0.38},{"p":9,"m":"MLLS","x":0.04,"y":0.48},{"p":9,"m":"MLLS","x":0.06,"y":0.55},{"p":9,"m":"MLLS","x":0.08,"y":0.61},{"p":9,"m":"MLLS","x":0.1,"y":0.66},{"p":9,"m":"MLLS","x":0.13,"y":0.72},{"p":9,"m":"MLLS","x":0.16,"y":0.75},{"p":9,"m":"MLLS","x":0.2,"y":0.79},{"p":9,"m":"MLLS","x":0.25,"y":0.82},{"p":9,"m":"MLLS","x":0.3,"y":0.86},{"p":9,"m":"MLLS","x":0.35,"y":0.88},{"p":9,"m":"MLLS","x":0.4,"y":0.9},{"p":9,"m":"MLLS","x":0.5,"y":0.93},{"p":9,"m":"MLLS","x":0.6,"y":0.96},{"p":9,"m":"MLLS","x":0.7,"y":0.98},{"p":9,"m":"MLLS","x":0.8,"y":0.99},{"p":9,"m":"MLLS","x":0.9,"y":1},{"p":9,"m":"MLLS","x":1,"y":1},
{"p":9,"m":"SVM","x":0,"y":0},{"p":9,"m":"SVM","x":0.005,"y":0.18},{"p":9,"m":"SVM","x":0.01,"y":0.27},{"p":9,"m":"SVM","x":0.02,"y":0.37},{"p":9,"m":"SVM","x":0.04,"y":0.47},{"p":9,"m":"SVM","x":0.06,"y":0.54},{"p":9,"m":"SVM","x":0.08,"y":0.6},{"p":9,"m":"SVM","x":0.1,"y":0.65},{"p":9,"m":"SVM","x":0.13,"y":0.71},{"p":9,"m":"SVM","x":0.16,"y":0.75},{"p":9,"m":"SVM","x":0.2,"y":0.79},{"p":9,"m":"SVM","x":0.25,"y":0.825},{"p":9,"m":"SVM","x":0.3,"y":0.86},{"p":9,"m":"SVM","x":0.35,"y":0.88},{"p":9,"m":"SVM","x":0.4,"y":0.9},{"p":9,"m":"SVM","x":0.5,"y":0.93},{"p":9,"m":"SVM","x":0.6,"y":0.955},{"p":9,"m":"SVM","x":0.7,"y":0.975},{"p":9,"m":"SVM","x":0.8,"y":0.99},{"p":9,"m":"SVM","x":0.9,"y":1},{"p":9,"m":"SVM","x":1,"y":1},
{"p":9,"m":"PMKcomp","x":0,"y":0},{"p":9,"m":"PMKcomp","x":0.005,"y":0.08},{"p":9,"m":"PMKcomp","x":0.01,"y":0.13},{"p":9,"m":"PMKcomp","x":0.02,"y":0.2},{"p":9,"m":"PMKcomp","x":0.04,"y":0.28},{"p":9,"m":"PMKcomp","x":0.06,"y":0.36},{"p":9,"m":"PMKcomp","x":0.08,"y":0.43},{"p":9,"m":"PMKcomp","x":0.1,"y":0.48},{"p":9,"m":"PMKcomp","x":0.13,"y":0.54},{"p":9,"m":"PMKcomp","x":0.16,"y":0.6},{"p":9,"m":"PMKcomp","x":0.2,"y":0.65},{"p":9,"m":"PMKcomp","x":0.24,"y":0.69},{"p":9,"m":"PMKcomp","x":0.27,"y":0.72},{"p":9,"m":"PMKcomp","x":0.32,"y":0.76},{"p":9,"m":"PMKcomp","x":0.37,"y":0.8},{"p":9,"m":"PMKcomp","x":0.45,"y":0.84},{"p":9,"m":"PMKcomp","x":0.5,"y":0.87},{"p":9,"m":"PMKcomp","x":0.6,"y":0.89},{"p":9,"m":"PMKcomp","x":0.7,"y":0.92},{"p":9,"m":"PMKcomp","x":0.8,"y":0.96},{"p":9,"m":"PMKcomp","x":0.9,"y":0.99},{"p":9,"m":"PMKcomp","x":1,"y":1},
{"p":9,"m":"PMKsift","x":0,"y":0},{"p":9,"m":"PMKsift","x":0.005,"y":0.15},{"p":9,"m":"PMKsift","x":0.01,"y":0.22},{"p":9,"m":"PMKsift","x":0.02,"y":0.3},{"p":9,"m":"PMKsift","x":0.04,"y":0.39},{"p":9,"m":"PMKsift","x":0.06,"y":0.46},{"p":9,"m":"PMKsift","x":0.08,"y":0.52},{"p":9,"m":"PMKsift","x":0.1,"y":0.57},{"p":9,"m":"PMKsift","x":0.13,"y":0.62},{"p":9,"m":"PMKsift","x":0.17,"y":0.67},{"p":9,"m":"PMKsift","x":0.22,"y":0.73},{"p":9,"m":"PMKsift","x":0.27,"y":0.76},{"p":9,"m":"PMKsift","x":0.32,"y":0.8},{"p":9,"m":"PMKsift","x":0.37,"y":0.83},{"p":9,"m":"PMKsift","x":0.45,"y":0.85},{"p":9,"m":"PMKsift","x":0.5,"y":0.87},{"p":9,"m":"PMKsift","x":0.6,"y":0.9},{"p":9,"m":"PMKsift","x":0.7,"y":0.93},{"p":9,"m":"PMKsift","x":0.8,"y":0.97},{"p":9,"m":"PMKsift","x":0.9,"y":0.99},{"p":9,"m":"PMKsift","x":1,"y":1}
],
"o":[
{"p":1,"m":"MLLS","x":0.27,"y":0.93},{"p":1,"m":"SVM","x":0.36,"y":0.935},{"p":1,"m":"PMKcomp","x":0.25,"y":0.84},{"p":1,"m":"PMKsift","x":0.43,"y":0.915},
{"p":2,"m":"MLLS","x":0.14,"y":0.86},{"p":2,"m":"SVM","x":0.22,"y":0.9},{"p":2,"m":"PMKcomp","x":0.25,"y":0.87},{"p":2,"m":"PMKsift","x":0.15,"y":0.78},
{"p":3,"m":"MLLS","x":0.145,"y":0.85},{"p":3,"m":"SVM","x":0.16,"y":0.835},{"p":3,"m":"PMKcomp","x":0.235,"y":0.875},{"p":3,"m":"PMKsift","x":0.13,"y":0.74},
{"p":4,"m":"MLLS","x":0.19,"y":0.64},{"p":4,"m":"SVM","x":0.16,"y":0.6},{"p":4,"m":"PMKcomp","x":0.29,"y":0.64},{"p":4,"m":"PMKsift","x":0.1,"y":0.39},
{"p":5,"m":"MLLS","x":0.19,"y":0.85},{"p":5,"m":"SVM","x":0.21,"y":0.855},{"p":5,"m":"PMKcomp","x":0.3,"y":0.84},{"p":5,"m":"PMKsift","x":0.1,"y":0.65},
{"p":6,"m":"MLLS","x":0.21,"y":0.85},{"p":6,"m":"SVM","x":0.17,"y":0.77},{"p":6,"m":"PMKcomp","x":0.24,"y":0.76},{"p":6,"m":"PMKsift","x":0.075,"y":0.52},
{"p":7,"m":"MLLS","x":0.265,"y":0.885},{"p":7,"m":"SVM","x":0.4,"y":0.955},{"p":7,"m":"PMKcomp","x":0.225,"y":0.775},{"p":7,"m":"PMKsift","x":0.375,"y":0.885},
{"p":8,"m":"MLLS","x":0.225,"y":0.845},{"p":8,"m":"SVM","x":0.17,"y":0.765},{"p":8,"m":"PMKcomp","x":0.315,"y":0.765},{"p":8,"m":"PMKsift","x":0.115,"y":0.605},
{"p":9,"m":"MLLS","x":0.145,"y":0.74},{"p":9,"m":"SVM","x":0.15,"y":0.735},{"p":9,"m":"PMKcomp","x":0.27,"y":0.72},{"p":9,"m":"PMKsift","x":0.08,"y":0.52}
]
},
"concat":[
{"width":183,"height":145,"encoding":{"x":{"field":"x","type":"quantitative","scale":{"domain":[0,1],"nice":false},"axis":{"title":"1 – Specificity (false positive rate)","values":[0,0.2,0.4,0.6,0.8,1],"labelExpr":"format(datum.value,'~g')","labelOverlap":false}},"y":{"field":"y","type":"quantitative","scale":{"domain":[0,1],"nice":false},"axis":{"title":"Sensitivity (true positive rate)","values":[0,0.1,0.2,0.3,0.4,0.5,0.6,0.7,0.8,0.9,1],"labelExpr":"format(datum.value,'~g')","labelOverlap":false}}},"layer":[{"data":{"name":"c"},"transform":[{"filter":"datum.p==1"}],"mark":{"type":"line","clip":true},"encoding":{"color":{"field":"m","type":"nominal","scale":{"domain":["MLLS","SVM","PMKcomp","PMKsift"],"range":["#ff0000","#0000ff","#000000","#22dd22"]},"legend":{"title":null}},"strokeDash":{"field":"m","type":"nominal","scale":{"domain":["MLLS","SVM","PMKcomp","PMKsift"],"range":[[1,0],[5,3],[6,2,1.5,2],[1.5,2]]},"legend":{"title":null}},"strokeWidth":{"condition":{"test":"datum.m=='PMKsift'","value":1.2},"value":2}}},{"data":{"name":"o"},"transform":[{"filter":"datum.p==1"}],"mark":{"type":"point","filled":false,"size":45,"strokeWidth":1},"encoding":{"stroke":{"field":"m","type":"nominal","scale":{"domain":["MLLS","SVM","PMKcomp","PMKsift"],"range":["#ff0000","#0000ff","#000000","#22dd22"]},"legend":null}}}]},
{"width":183,"height":145,"encoding":{"x":{"field":"x","type":"quantitative","scale":{"domain":[0,1],"nice":false},"axis":{"title":"1 – Specificity (false positive rate)","values":[0,0.2,0.4,0.6,0.8,1],"labelExpr":"format(datum.value,'~g')","labelOverlap":false}},"y":{"field":"y","type":"quantitative","scale":{"domain":[0,1],"nice":false},"axis":{"title":"Sensitivity (true positive rate)","values":[0,0.1,0.2,0.3,0.4,0.5,0.6,0.7,0.8,0.9,1],"labelExpr":"format(datum.value,'~g')","labelOverlap":false}}},"layer":[{"data":{"name":"c"},"transform":[{"filter":"datum.p==2"}],"mark":{"type":"line","clip":true},"encoding":{"color":{"field":"m","type":"nominal","scale":{"domain":["MLLS","SVM","PMKcomp","PMKsift"],"range":["#ff0000","#0000ff","#000000","#22dd22"]},"legend":{"title":null}},"strokeDash":{"field":"m","type":"nominal","scale":{"domain":["MLLS","SVM","PMKcomp","PMKsift"],"range":[[1,0],[5,3],[6,2,1.5,2],[1.5,2]]},"legend":{"title":null}},"strokeWidth":{"condition":{"test":"datum.m=='PMKsift'","value":1.2},"value":2}}},{"data":{"name":"o"},"transform":[{"filter":"datum.p==2"}],"mark":{"type":"point","filled":false,"size":45,"strokeWidth":1},"encoding":{"stroke":{"field":"m","type":"nominal","scale":{"domain":["MLLS","SVM","PMKcomp","PMKsift"],"range":["#ff0000","#0000ff","#000000","#22dd22"]},"legend":null}}}]},
{"width":183,"height":145,"encoding":{"x":{"field":"x","type":"quantitative","scale":{"domain":[0,1],"nice":false},"axis":{"title":"1 – Specificity (false positive rate)","values":[0,0.2,0.4,0.6,0.8,1],"labelExpr":"format(datum.value,'~g')","labelOverlap":false}},"y":{"field":"y","type":"quantitative","scale":{"domain":[0,1],"nice":false},"axis":{"title":"Sensitivity (true positive rate)","values":[0,0.1,0.2,0.3,0.4,0.5,0.6,0.7,0.8,0.9,1],"labelExpr":"format(datum.value,'~g')","labelOverlap":false}}},"layer":[{"data":{"name":"c"},"transform":[{"filter":"datum.p==3"}],"mark":{"type":"line","clip":true},"encoding":{"color":{"field":"m","type":"nominal","scale":{"domain":["MLLS","SVM","PMKcomp","PMKsift"],"range":["#ff0000","#0000ff","#000000","#22dd22"]},"legend":{"title":null}},"strokeDash":{"field":"m","type":"nominal","scale":{"domain":["MLLS","SVM","PMKcomp","PMKsift"],"range":[[1,0],[5,3],[6,2,1.5,2],[1.5,2]]},"legend":{"title":null}},"strokeWidth":{"condition":{"test":"datum.m=='PMKsift'","value":1.2},"value":2}}},{"data":{"name":"o"},"transform":[{"filter":"datum.p==3"}],"mark":{"type":"point","filled":false,"size":45,"strokeWidth":1},"encoding":{"stroke":{"field":"m","type":"nominal","scale":{"domain":["MLLS","SVM","PMKcomp","PMKsift"],"range":["#ff0000","#0000ff","#000000","#22dd22"]},"legend":null}}}]},
{"width":183,"height":145,"encoding":{"x":{"field":"x","type":"quantitative","scale":{"domain":[0,1],"nice":false},"axis":{"title":"1 – Specificity (false positive rate)","values":[0,0.2,0.4,0.6,0.8,1],"labelExpr":"format(datum.value,'~g')","labelOverlap":false}},"y":{"field":"y","type":"quantitative","scale":{"domain":[0,1],"nice":false},"axis":{"title":"Sensitivity (true positive rate)","values":[0,0.1,0.2,0.3,0.4,0.5,0.6,0.7,0.8,0.9,1],"labelExpr":"format(datum.value,'~g')","labelOverlap":false}}},"layer":[{"data":{"name":"c"},"transform":[{"filter":"datum.p==4"}],"mark":{"type":"line","clip":true},"encoding":{"color":{"field":"m","type":"nominal","scale":{"domain":["MLLS","SVM","PMKcomp","PMKsift"],"range":["#ff0000","#0000ff","#000000","#22dd22"]},"legend":{"title":null}},"strokeDash":{"field":"m","type":"nominal","scale":{"domain":["MLLS","SVM","PMKcomp","PMKsift"],"range":[[1,0],[5,3],[6,2,1.5,2],[1.5,2]]},"legend":{"title":null}},"strokeWidth":{"condition":{"test":"datum.m=='PMKsift'","value":1.2},"value":2}}},{"data":{"name":"o"},"transform":[{"filter":"datum.p==4"}],"mark":{"type":"point","filled":false,"size":45,"strokeWidth":1},"encoding":{"stroke":{"field":"m","type":"nominal","scale":{"domain":["MLLS","SVM","PMKcomp","PMKsift"],"range":["#ff0000","#0000ff","#000000","#22dd22"]},"legend":null}}}]},
{"width":183,"height":145,"encoding":{"x":{"field":"x","type":"quantitative","scale":{"domain":[0,1],"nice":false},"axis":{"title":"1 – Specificity (false positive rate)","values":[0,0.2,0.4,0.6,0.8,1],"labelExpr":"format(datum.value,'~g')","labelOverlap":false}},"y":{"field":"y","type":"quantitative","scale":{"domain":[0,1],"nice":false},"axis":{"title":"Sensitivity (true positive rate)","values":[0,0.1,0.2,0.3,0.4,0.5,0.6,0.7,0.8,0.9,1],"labelExpr":"format(datum.value,'~g')","labelOverlap":false}}},"layer":[{"data":{"name":"c"},"transform":[{"filter":"datum.p==5"}],"mark":{"type":"line","clip":true},"encoding":{"color":{"field":"m","type":"nominal","scale":{"domain":["MLLS","SVM","PMKcomp","PMKsift"],"range":["#ff0000","#0000ff","#000000","#22dd22"]},"legend":{"title":null}},"strokeDash":{"field":"m","type":"nominal","scale":{"domain":["MLLS","SVM","PMKcomp","PMKsift"],"range":[[1,0],[5,3],[6,2,1.5,2],[1.5,2]]},"legend":{"title":null}},"strokeWidth":{"condition":{"test":"datum.m=='PMKsift'","value":1.2},"value":2}}},{"data":{"name":"o"},"transform":[{"filter":"datum.p==5"}],"mark":{"type":"point","filled":false,"size":45,"strokeWidth":1},"encoding":{"stroke":{"field":"m","type":"nominal","scale":{"domain":["MLLS","SVM","PMKcomp","PMKsift"],"range":["#ff0000","#0000ff","#000000","#22dd22"]},"legend":null}}}]},
{"width":183,"height":145,"encoding":{"x":{"field":"x","type":"quantitative","scale":{"domain":[0,1],"nice":false},"axis":{"title":"1 – Specificity (false positive rate)","values":[0,0.2,0.4,0.6,0.8,1],"labelExpr":"format(datum.value,'~g')","labelOverlap":false}},"y":{"field":"y","type":"quantitative","scale":{"domain":[0,1],"nice":false},"axis":{"title":"Sensitivity (true positive rate)","values":[0,0.1,0.2,0.3,0.4,0.5,0.6,0.7,0.8,0.9,1],"labelExpr":"format(datum.value,'~g')","labelOverlap":false}}},"layer":[{"data":{"name":"c"},"transform":[{"filter":"datum.p==6"}],"mark":{"type":"line","clip":true},"encoding":{"color":{"field":"m","type":"nominal","scale":{"domain":["MLLS","SVM","PMKcomp","PMKsift"],"range":["#ff0000","#0000ff","#000000","#22dd22"]},"legend":{"title":null}},"strokeDash":{"field":"m","type":"nominal","scale":{"domain":["MLLS","SVM","PMKcomp","PMKsift"],"range":[[1,0],[5,3],[6,2,1.5,2],[1.5,2]]},"legend":{"title":null}},"strokeWidth":{"condition":{"test":"datum.m=='PMKsift'","value":1.2},"value":2}}},{"data":{"name":"o"},"transform":[{"filter":"datum.p==6"}],"mark":{"type":"point","filled":false,"size":45,"strokeWidth":1},"encoding":{"stroke":{"field":"m","type":"nominal","scale":{"domain":["MLLS","SVM","PMKcomp","PMKsift"],"range":["#ff0000","#0000ff","#000000","#22dd22"]},"legend":null}}}]},
{"width":183,"height":145,"encoding":{"x":{"field":"x","type":"quantitative","scale":{"domain":[0,1],"nice":false},"axis":{"title":"1 – Specificity (false positive rate)","values":[0,0.2,0.4,0.6,0.8,1],"labelExpr":"format(datum.value,'~g')","labelOverlap":false}},"y":{"field":"y","type":"quantitative","scale":{"domain":[0,1],"nice":false},"axis":{"title":"Sensitivity (true positive rate)","values":[0,0.1,0.2,0.3,0.4,0.5,0.6,0.7,0.8,0.9,1],"labelExpr":"format(datum.value,'~g')","labelOverlap":false}}},"layer":[{"data":{"name":"c"},"transform":[{"filter":"datum.p==7"}],"mark":{"type":"line","clip":true},"encoding":{"color":{"field":"m","type":"nominal","scale":{"domain":["MLLS","SVM","PMKcomp","PMKsift"],"range":["#ff0000","#0000ff","#000000","#22dd22"]},"legend":{"title":null}},"strokeDash":{"field":"m","type":"nominal","scale":{"domain":["MLLS","SVM","PMKcomp","PMKsift"],"range":[[1,0],[5,3],[6,2,1.5,2],[1.5,2]]},"legend":{"title":null}},"strokeWidth":{"condition":{"test":"datum.m=='PMKsift'","value":1.2},"value":2}}},{"data":{"name":"o"},"transform":[{"filter":"datum.p==7"}],"mark":{"type":"point","filled":false,"size":45,"strokeWidth":1},"encoding":{"stroke":{"field":"m","type":"nominal","scale":{"domain":["MLLS","SVM","PMKcomp","PMKsift"],"range":["#ff0000","#0000ff","#000000","#22dd22"]},"legend":null}}}]},
{"width":183,"height":145,"encoding":{"x":{"field":"x","type":"quantitative","scale":{"domain":[0,1],"nice":false},"axis":{"title":"1 – Specificity (false positive rate)","values":[0,0.2,0.4,0.6,0.8,1],"labelExpr":"format(datum.value,'~g')","labelOverlap":false}},"y":{"field":"y","type":"quantitative","scale":{"domain":[0,1],"nice":false},"axis":{"title":"Sensitivity (true positive rate)","values":[0,0.1,0.2,0.3,0.4,0.5,0.6,0.7,0.8,0.9,1],"labelExpr":"format(datum.value,'~g')","labelOverlap":false}}},"layer":[{"data":{"name":"c"},"transform":[{"filter":"datum.p==8"}],"mark":{"type":"line","clip":true},"encoding":{"color":{"field":"m","type":"nominal","scale":{"domain":["MLLS","SVM","PMKcomp","PMKsift"],"range":["#ff0000","#0000ff","#000000","#22dd22"]},"legend":{"title":null}},"strokeDash":{"field":"m","type":"nominal","scale":{"domain":["MLLS","SVM","PMKcomp","PMKsift"],"range":[[1,0],[5,3],[6,2,1.5,2],[1.5,2]]},"legend":{"title":null}},"strokeWidth":{"condition":{"test":"datum.m=='PMKsift'","value":1.2},"value":2}}},{"data":{"name":"o"},"transform":[{"filter":"datum.p==8"}],"mark":{"type":"point","filled":false,"size":45,"strokeWidth":1},"encoding":{"stroke":{"field":"m","type":"nominal","scale":{"domain":["MLLS","SVM","PMKcomp","PMKsift"],"range":["#ff0000","#0000ff","#000000","#22dd22"]},"legend":null}}}]},
{"width":183,"height":145,"encoding":{"x":{"field":"x","type":"quantitative","scale":{"domain":[0,1],"nice":false},"axis":{"title":"1 – Specificity (false positive rate)","values":[0,0.2,0.4,0.6,0.8,1],"labelExpr":"format(datum.value,'~g')","labelOverlap":false}},"y":{"field":"y","type":"quantitative","scale":{"domain":[0,1],"nice":false},"axis":{"title":"Sensitivity (true positive rate)","values":[0,0.1,0.2,0.3,0.4,0.5,0.6,0.7,0.8,0.9,1],"labelExpr":"format(datum.value,'~g')","labelOverlap":false}}},"layer":[{"data":{"name":"c"},"transform":[{"filter":"datum.p==9"}],"mark":{"type":"line","clip":true},"encoding":{"color":{"field":"m","type":"nominal","scale":{"domain":["MLLS","SVM","PMKcomp","PMKsift"],"range":["#ff0000","#0000ff","#000000","#22dd22"]},"legend":{"title":null}},"strokeDash":{"field":"m","type":"nominal","scale":{"domain":["MLLS","SVM","PMKcomp","PMKsift"],"range":[[1,0],[5,3],[6,2,1.5,2],[1.5,2]]},"legend":{"title":null}},"strokeWidth":{"condition":{"test":"datum.m=='PMKsift'","value":1.2},"value":2}}},{"data":{"name":"o"},"transform":[{"filter":"datum.p==9"}],"mark":{"type":"point","filled":false,"size":45,"strokeWidth":1},"encoding":{"stroke":{"field":"m","type":"nominal","scale":{"domain":["MLLS","SVM","PMKcomp","PMKsift"],"range":["#ff0000","#0000ff","#000000","#22dd22"]},"legend":null}}}]}
],
"resolve":{"scale":{"color":"independent","strokeDash":"independent","stroke":"independent"},"legend":{"color":"independent","strokeDash":"independent"}},
"config":{
"font":"Liberation Sans",
"view":{"stroke":"black","strokeWidth":1},
"axis":{"grid":false,"domainColor":"black","domainWidth":1,"tickColor":"black","tickSize":-3,"labelColor":"black","labelFontSize":6,"labelPadding":5,"labelOverlap":false,"titleColor":"black","titleFontSize":7.5,"titleFontWeight":"normal","titlePadding":3},
"legend":{"orient":"bottom-right","offset":2,"strokeColor":"black","fillColor":"white","padding":3,"labelFontSize":5.5,"labelColor":"black","symbolType":"stroke","symbolSize":220,"symbolStrokeWidth":2,"rowPadding":-5,"labelOffset":3}
}
}
